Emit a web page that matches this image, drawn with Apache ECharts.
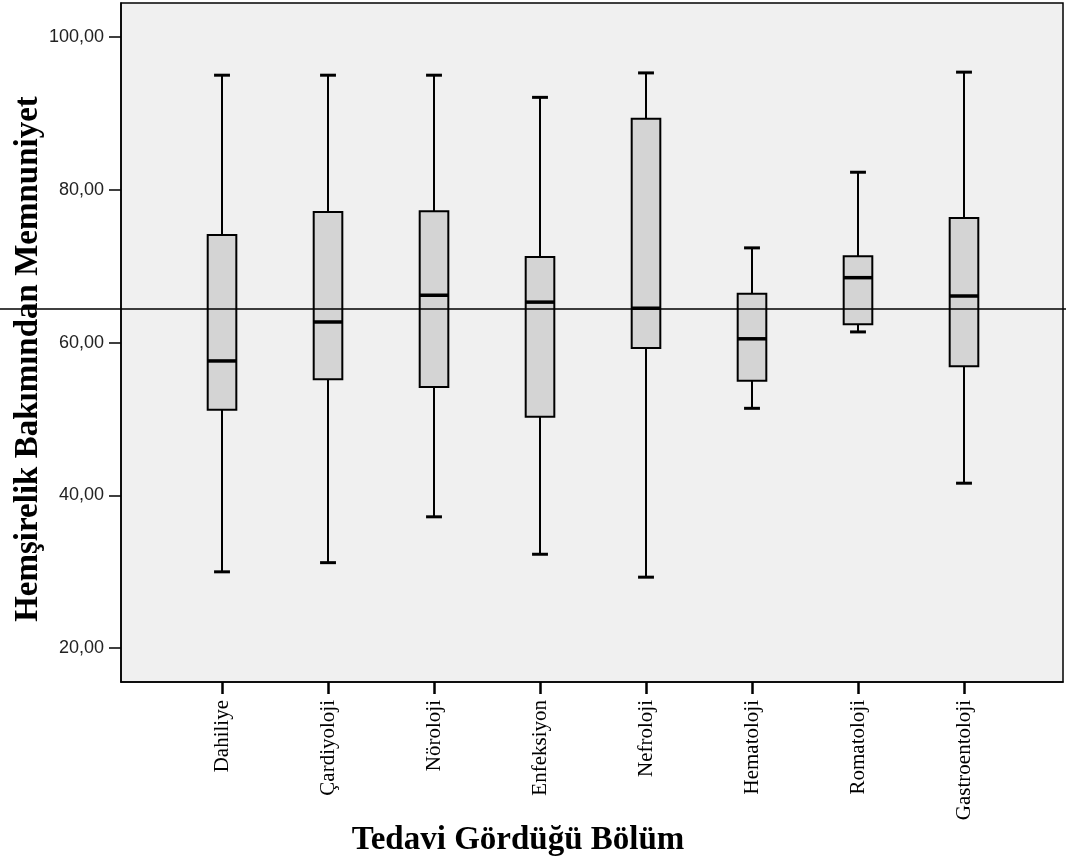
<!DOCTYPE html>
<html>
<head>
<meta charset="utf-8">
<script src="https://cdn.jsdelivr.net/npm/echarts@6/dist/echarts.min.js"></script>
<style>
html,body{margin:0;padding:0;background:#fff;}
#chart{width:1066px;height:861px;}
</style>
</head>
<body>
<div id="chart"></div>
<script>
const categories = ['Dahiliye','Çardiyoloji','Nöroloji','Enfeksiyon','Nefroloji','Hematoloji','Romatoloji','Gastroentoloji'];
const lowWhisker  = [30.0, 31.2, 37.2, 32.3, 29.3, 51.4, 61.4, 41.6];
const q1Values    = [51.2, 55.2, 54.2, 50.3, 59.3, 55.0, 62.4, 56.9];
const medians     = [57.6, 62.7, 66.2, 65.3, 64.5, 60.5, 68.5, 66.1];
const q3Values    = [74.1, 77.1, 77.2, 71.2, 89.3, 66.4, 71.3, 76.3];
const highWhisker = [95.0, 95.0, 95.0, 92.1, 95.3, 72.4, 82.3, 95.4];
const yTicks = [20, 40, 60, 80, 100];
const referenceValue = 64.4;
const xTitle = 'Tedavi Gördüğü Bölüm';
const yTitle = 'Hemşirelik Bakımından Memnuniyet';

const boxData = categories.map((c, i) => [i, lowWhisker[i], q1Values[i], medians[i], q3Values[i], highWhisker[i]]);

function renderItem(params, api) {
  const x = api.value(0);
  const lo = api.coord([x, api.value(1)]);
  const q1 = api.coord([x, api.value(2)]);
  const med = api.coord([x, api.value(3)]);
  const q3 = api.coord([x, api.value(4)]);
  const hi = api.coord([x, api.value(5)]);
  const unit = api.size([1, 0])[0];
  const bw = unit * 0.135;
  const cw = unit * 0.075;
  const cx = lo[0];
  const lineStyle = {stroke: '#000', lineWidth: 2};
  return {
    type: 'group',
    children: [
      {type: 'line', shape: {x1: cx, y1: hi[1], x2: cx, y2: q3[1]}, style: lineStyle},
      {type: 'line', shape: {x1: cx, y1: q1[1], x2: cx, y2: lo[1]}, style: lineStyle},
      {type: 'line', shape: {x1: cx - cw, y1: hi[1], x2: cx + cw, y2: hi[1]}, style: {stroke: '#000', lineWidth: 3}},
      {type: 'line', shape: {x1: cx - cw, y1: lo[1], x2: cx + cw, y2: lo[1]}, style: {stroke: '#000', lineWidth: 3}},
      {type: 'rect', shape: {x: cx - bw, y: q3[1], width: bw * 2, height: q1[1] - q3[1]}, style: {fill: '#d4d4d4', stroke: '#000', lineWidth: 2}},
      {type: 'line', shape: {x1: cx - bw, y1: med[1], x2: cx + bw, y2: med[1]}, style: {stroke: '#000', lineWidth: 3.5}}
    ]
  };
}

const chart = echarts.init(document.getElementById('chart'), null, {renderer: 'canvas'});
const option = {
  animation: false,
  backgroundColor: '#ffffff',
  grid: {
    left: 121, right: 3, top: 3, bottom: 179,
    show: true, backgroundColor: '#f0f0f0', borderColor: '#000', borderWidth: 1.5
  },
  xAxis: {
    type: 'value',
    min: -0.953, max: 7.934,
    axisLine: {show: true, onZero: false, lineStyle: {color: '#000', width: 1.5}},
    axisTick: {show: true, length: 12, lineStyle: {color: '#000', width: 2.5}, customValues: categories.map((c, i) => i)},
    axisLabel: {
      rotate: 90, margin: 18,
      fontFamily: 'Liberation Serif', fontSize: 21, color: '#000',
      customValues: categories.map((c, i) => i),
      formatter: v => categories[Math.round(v)] || ''
    },
    splitLine: {show: false}
  },
  yAxis: {
    type: 'value',
    min: 15.58, max: 104.45,
    axisLine: {show: true, onZero: false, lineStyle: {color: '#000', width: 1.5}},
    axisTick: {show: true, length: 12, lineStyle: {color: '#000', width: 1.5}, customValues: yTicks},
    axisLabel: {
      margin: 17, fontFamily: 'Liberation Sans', fontSize: 18, color: '#222',
      customValues: yTicks,
      formatter: v => v.toFixed(2).replace('.', ',')
    },
    splitLine: {show: false}
  },
  series: [{
    type: 'custom',
    renderItem: renderItem,
    data: boxData,
    encode: {x: 0, y: [1, 2, 3, 4, 5]},
    z: 3
  }]
};
chart.setOption(option);
const refY = chart.convertToPixel({gridIndex: 0}, [0, referenceValue])[1];
chart.setOption({
  graphic: [
    {
      type: 'line', z: 100,
      shape: {x1: 0, y1: refY, x2: chart.getWidth(), y2: refY},
      style: {stroke: '#000', lineWidth: 1.5}
    },
    {
      type: 'text', x: 518, y: 840,
      style: {text: xTitle, font: 'bold 33px "Liberation Serif"', fill: '#000', align: 'center', verticalAlign: 'middle'}
    },
    {
      type: 'text', x: 28, y: 359, rotation: Math.PI / 2,
      style: {text: yTitle, font: 'bold 33px "Liberation Serif"', fill: '#000', align: 'center', verticalAlign: 'middle'}
    }
  ]
});
</script>
</body>
</html>
